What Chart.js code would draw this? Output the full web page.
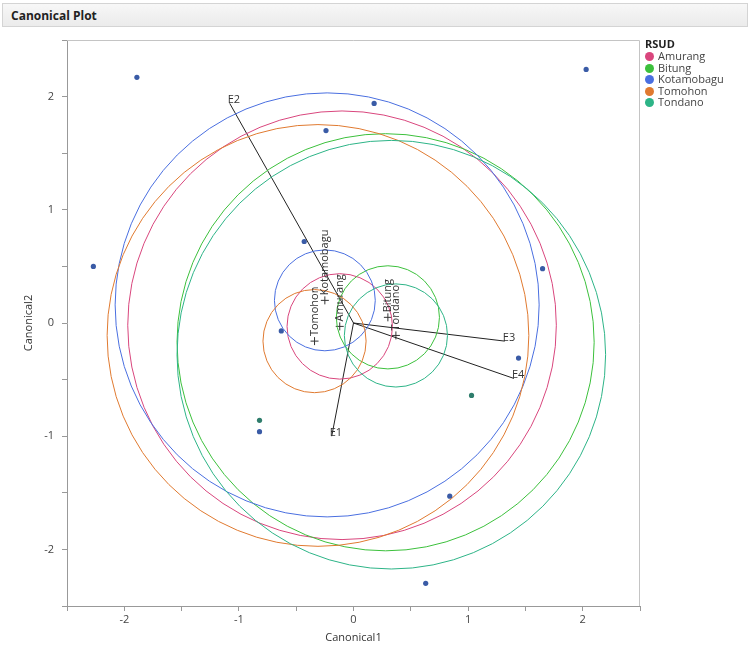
<!DOCTYPE html>
<html>
<head>
<meta charset="utf-8">
<script src="https://cdn.jsdelivr.net/npm/chart.js@4.4.0/dist/chart.umd.min.js"></script>
<style>
    body { margin: 0; background: #fff; font-family: 'Open Sans', 'DejaVu Sans', sans-serif; }
    #wrap { position: relative; width: 752px; height: 654px; }
    #canonical { position: absolute; left: 0; top: 0; }
    #header {
        position: absolute; left: 2px; top: 3px; width: 746px; height: 24px;
        background: linear-gradient(#f7f7f7, #ebebeb); border: 1px solid #d4d4d4;
        font-size: 12px; font-weight: bold; line-height: 24px; padding-left: 8px; box-sizing: border-box;
        color: #222;
    }
    #legend { position: absolute; left: 645px; top: 37px; font-size: 11px; color: #444; }
    #legend .title { font-weight: bold; color: #222; height: 13px; line-height: 13px; }
    #legend .row { height: 11.6px; line-height: 11.6px; white-space: nowrap; }
    #legend .dot { display: inline-block; width: 9px; height: 9px; border-radius: 50%; margin-right: 4px; vertical-align: -1px; }
</style>
</head>
<body>
<div id="wrap">
    <canvas id="canonical" width="752" height="654"></canvas>
    <div id="header">Canonical Plot</div>
    <div id="legend"><div class="title">RSUD</div></div>
</div>
<script>
// groups (RSUD)
let groups = ['Amurang', 'Bitung', 'Kotamobagu', 'Tomohon', 'Tondano'];
let group_colors = ['#d9467d', '#3cc03c', '#4a6fe0', '#e07a30', '#2db487'];
// group means + inner circle radius, canonical units
let mean_x = [-0.12, 0.30, -0.25, -0.34, 0.37];
let mean_y = [-0.03, 0.05, 0.20, -0.16, -0.11];
let inner_r = [0.46, 0.45, 0.44, 0.45, 0.45];
// outer (50%) circles
let outer_x = [-0.10, 0.28, -0.23, -0.31, 0.33];
let outer_y = [-0.02, -0.17, 0.16, -0.11, -0.28];
let outer_r = [1.87, 1.82, 1.85, 1.84, 1.87];

// observations
let point_x = [-1.89, 2.03, 0.18, -0.24, -2.27, -0.43, 1.65, -0.63, 1.44, 1.03, -0.82, -0.82, 0.84, 0.63];
let point_y = [2.17, 2.24, 1.94, 1.70, 0.50, 0.72, 0.48, -0.07, -0.31, -0.64, -0.86, -0.96, -1.53, -2.30];
let point_colors = ['#3a5ba6', '#3a5ba6', '#3a5ba6', '#3a5ba6', '#3a5ba6', '#3a5ba6', '#3a5ba6', '#3a5ba6',
    '#3a5ba6', '#2f7d6c', '#2f7d6c', '#3a5ba6', '#3a5ba6', '#3a5ba6'];

// biplot rays
let ray_names = ['E1', 'E2', 'E3', 'E4'];
let ray_x = [-0.19, -1.08, 1.32, 1.40];
let ray_y = [-1.00, 1.94, -0.16, -0.49];

// axes
let axis_min = -2.5;
let axis_max = 2.5;
let tick_step = 0.5;

let legend = document.getElementById('legend');
for (let i = 0; i < groups.length; i++) {
    legend.innerHTML += "<div class='row'><span class='dot' style='background:" + group_colors[i] + "'></span>" + groups[i] + "</div>";
}

function px(chart, r) {
    let s = chart.scales.x;
    return Math.abs(s.getPixelForValue(r) - s.getPixelForValue(0));
}

let means = [];
let outer = [];
for (let i = 0; i < groups.length; i++) {
    means.push({ x: mean_x[i], y: mean_y[i] });
    outer.push({ x: outer_x[i], y: outer_y[i] });
}
let points = [];
for (let i = 0; i < point_x.length; i++) {
    points.push({ x: point_x[i], y: point_y[i] });
}

let datasets = [];
datasets.push({
    label: 'outer',
    data: outer,
    pointRadius: function (ctx) { return px(ctx.chart, outer_r[ctx.dataIndex]); },
    pointBackgroundColor: 'rgba(0,0,0,0)',
    pointBorderColor: group_colors,
    pointBorderWidth: 1
});
datasets.push({
    label: 'inner',
    data: means,
    pointRadius: function (ctx) { return px(ctx.chart, inner_r[ctx.dataIndex]); },
    pointBackgroundColor: 'rgba(0,0,0,0)',
    pointBorderColor: group_colors,
    pointBorderWidth: 1
});
for (let i = 0; i < ray_names.length; i++) {
    datasets.push({
        label: ray_names[i],
        data: [{ x: 0, y: 0 }, { x: ray_x[i], y: ray_y[i] }],
        showLine: true,
        borderColor: '#222',
        borderWidth: 1,
        pointRadius: 0
    });
}
datasets.push({
    label: 'means',
    data: means,
    pointStyle: 'cross',
    pointRadius: 4,
    pointBorderColor: '#333',
    pointBorderWidth: 1
});
datasets.push({
    label: 'points',
    data: points,
    pointRadius: 2.6,
    pointBackgroundColor: point_colors,
    pointBorderColor: point_colors,
    pointBorderWidth: 0
});

// frame round the plot, and the text labels
let plot_labels = {
    id: 'plot_labels',
    afterDatasetsDraw: function (chart) {
        let ctx = chart.ctx;
        let a = chart.chartArea;
        let sx = chart.scales.x;
        let sy = chart.scales.y;
        ctx.save();
        ctx.strokeStyle = '#c4c4c4';
        ctx.lineWidth = 1;
        ctx.beginPath();
        ctx.moveTo(a.left, a.top + 0.5);
        ctx.lineTo(a.right - 0.5, a.top + 0.5);
        ctx.lineTo(a.right - 0.5, a.bottom);
        ctx.stroke();

        ctx.fillStyle = '#333';
        ctx.font = "11px 'Open Sans', 'DejaVu Sans', sans-serif";
        ctx.textAlign = 'left';
        ctx.textBaseline = 'bottom';
        for (let i = 0; i < ray_names.length; i++) {
            ctx.fillText(ray_names[i], sx.getPixelForValue(ray_x[i]) - 2, sy.getPixelForValue(ray_y[i]) + 2);
        }
        ctx.textBaseline = 'middle';
        for (let i = 0; i < groups.length; i++) {
            ctx.save();
            ctx.translate(sx.getPixelForValue(mean_x[i]), sy.getPixelForValue(mean_y[i]));
            ctx.rotate(-Math.PI / 2);
            ctx.fillText(groups[i], 5, 0);
            ctx.restore();
        }
        ctx.restore();
    }
};

let tick_font = { family: "'Open Sans', 'DejaVu Sans', sans-serif", size: 11 };

let canonical = new Chart(document.getElementById('canonical').getContext('2d'), {
    type: 'scatter',
    data: { datasets: datasets },
    plugins: [plot_labels],
    options: {
        responsive: false,
        animation: false,
        events: [],
        layout: { padding: { top: 40, right: 112, bottom: 0, left: 0 } },
        plugins: {
            legend: { display: false },
            tooltip: { enabled: false }
        },
        scales: {
            x: {
                type: 'linear',
                min: axis_min,
                max: axis_max,
                afterFit: function (scale) { scale.height = 48; },
                grid: { drawOnChartArea: false, tickLength: 5, color: '#999' },
                border: { color: '#999' },
                ticks: {
                    stepSize: tick_step,
                    autoSkip: false,
                    maxRotation: 0,
                    padding: 2,
                    color: '#444',
                    font: tick_font,
                    callback: function (v) { return Number.isInteger(v) ? v : ''; }
                },
                title: {
                    display: true,
                    text: 'Canonical1',
                    color: '#333',
                    font: tick_font,
                    padding: { top: 0, bottom: 10 }
                }
            },
            y: {
                type: 'linear',
                min: axis_min,
                max: axis_max,
                afterFit: function (scale) { scale.width = 67; },
                grid: { drawOnChartArea: false, tickLength: 5, color: '#999' },
                border: { color: '#999' },
                ticks: {
                    stepSize: tick_step,
                    autoSkip: false,
                    padding: 8,
                    color: '#444',
                    font: tick_font,
                    callback: function (v) { return Number.isInteger(v) ? v : ''; }
                },
                title: {
                    display: true,
                    text: 'Canonical2',
                    color: '#333',
                    font: tick_font,
                    padding: { top: 22, bottom: 0 }
                }
            }
        }
    }
});
</script>
</body>
</html>
